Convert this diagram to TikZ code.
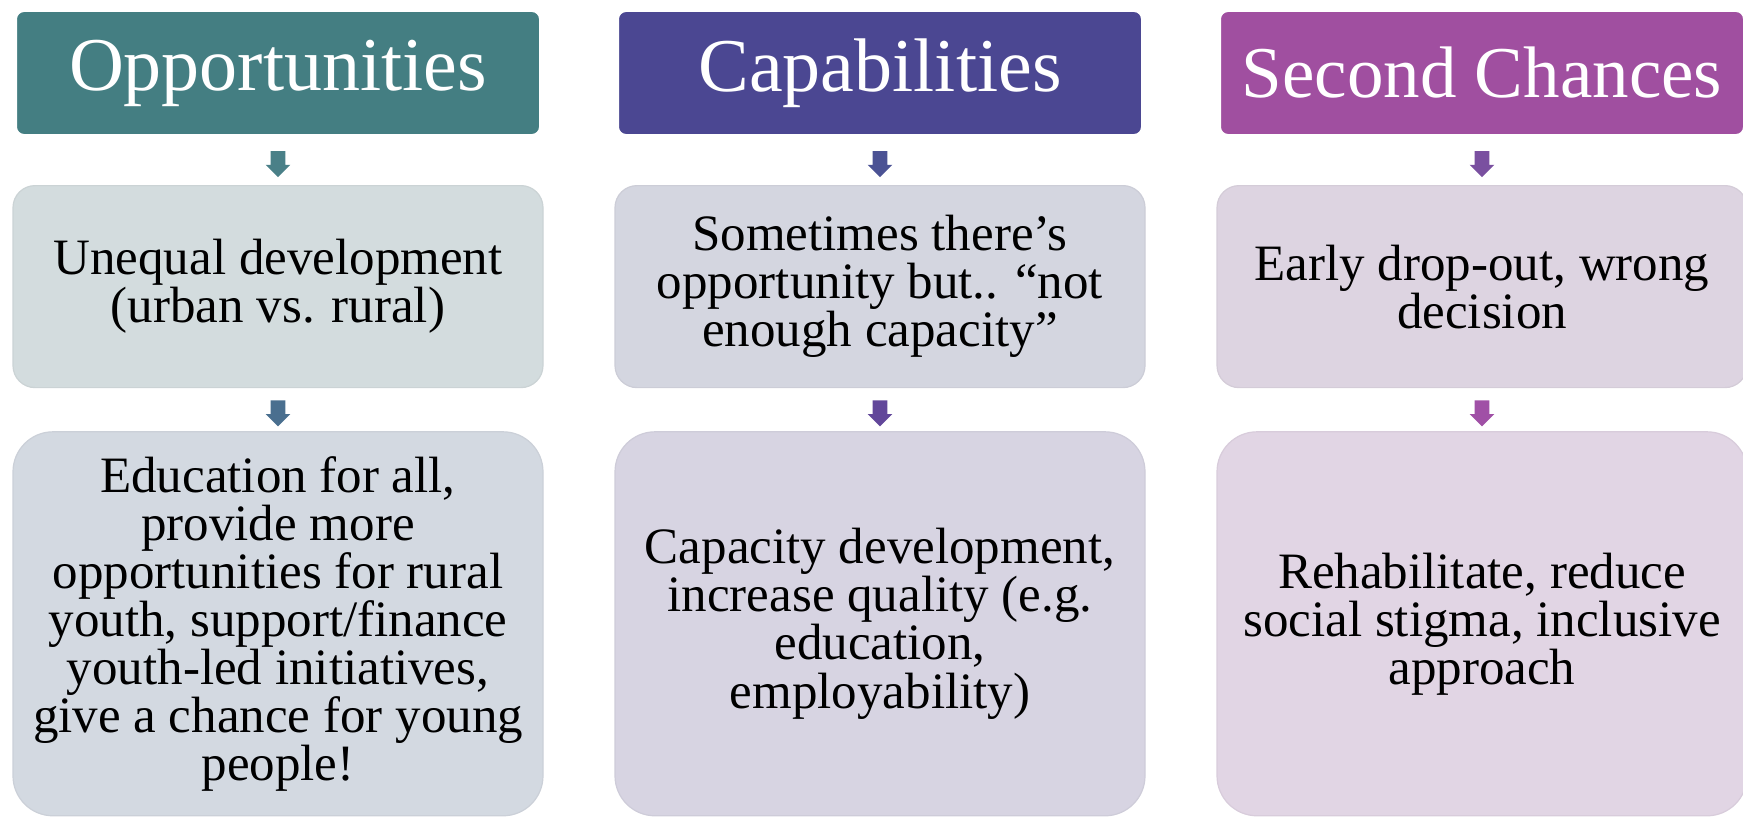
\documentclass[tikz,border=0pt]{standalone}
\usepackage{fontspec}
\setmainfont{Liberation Serif}
\usetikzlibrary{positioning, calc, shapes.arrows}

\definecolor{oppHead}{HTML}{447E82}
\definecolor{oppMid}{HTML}{D3DCDE}
\definecolor{oppLow}{HTML}{D3D9E1}
\definecolor{oppArrA}{HTML}{4A8088}
\definecolor{oppArrB}{HTML}{4A6F8F}
\definecolor{capHead}{HTML}{4B4792}
\definecolor{capMid}{HTML}{D4D6E0}
\definecolor{capLow}{HTML}{D7D4E2}
\definecolor{capArrA}{HTML}{4B5294}
\definecolor{capArrB}{HTML}{62479A}
\definecolor{secHead}{HTML}{A04FA0}
\definecolor{secMid}{HTML}{DDD4E1}
\definecolor{secLow}{HTML}{E1D5E4}
\definecolor{secArrA}{HTML}{7A50A0}
\definecolor{secArrB}{HTML}{A050A6}

\begin{document}
\begin{tikzpicture}[
      x=1pt, y=1pt,
      node distance = 24.5pt and 38pt,
      head/.style    = {fill=#1, draw=white, line width=1pt, rounded corners=4pt,
                        minimum width=262pt, minimum height=62pt, inner sep=0pt,
                        text=white, font=\fontsize{38}{40}\selectfont},
      midbox/.style  = {fill=#1, draw=#1!96!black, line width=0.6pt, rounded corners=11pt,
                        minimum width=265pt, minimum height=101pt, inner sep=0pt,
                        align=center, font=\fontsize{25.5}{24}\selectfont},
      lowbox/.style  = {midbox=#1, rounded corners=20pt, minimum height=192pt},
      dnarrow/.style = {single arrow, fill=#1, draw=none, shape border rotate=270,
                        minimum height=13pt, minimum width=12pt, inner sep=3.5pt,
                        single arrow head extend=2.5pt}
  ]
  \useasboundingbox (0,0) rectangle (871.5,408);

  % --- Column headers ---
  \node[head=oppHead] (hOpp) at (139,371.5) {Opportunities};
  \node[head=capHead, right=of hOpp] (hCap) {Capabilities};
  \node[head=secHead, right=of hCap, font=\fontsize{36.5}{40}\selectfont] (hSec) {Second Chances};

  % --- Problems ---
  \node[midbox=oppMid, below=of hOpp] (pOpp) {Unequal development\\(urban vs. rural)};
  \node[midbox=capMid, below=of hCap] (pCap) {Sometimes there’s\\opportunity but.. “not\\enough capacity”};
  \node[midbox=secMid, below=of hSec] (pSec) {Early drop-out, wrong\\decision};

  % --- Answers ---
  \node[lowbox=oppLow, below=21.5pt of pOpp] (aOpp)
        {Education for all,\\provide more\\opportunities for rural\\youth, support/finance\\youth-led initiatives,\\give a chance for young\\people!};
  \node[lowbox=capLow, below=21.5pt of pCap] (aCap)
        {Capacity development,\\increase quality (e.g.\\education,\\employability)};
  \node[lowbox=secLow, below=21.5pt of pSec] (aSec)
        {Rehabilitate, reduce\\social stigma, inclusive\\approach};

  % --- Block arrows ---
  \node[dnarrow=oppArrA] (dOppA) at ($(hOpp.south)!0.5!(pOpp.north)$) {};
  \node[dnarrow=capArrA] (dCapA) at ($(hCap.south)!0.5!(pCap.north)$) {};
  \node[dnarrow=secArrA] (dSecA) at ($(hSec.south)!0.5!(pSec.north)$) {};
  \node[dnarrow=oppArrB] (dOppB) at ($(pOpp.south)!0.5!(aOpp.north)$) {};
  \node[dnarrow=capArrB] (dCapB) at ($(pCap.south)!0.5!(aCap.north)$) {};
  \node[dnarrow=secArrB] (dSecB) at ($(pSec.south)!0.5!(aSec.north)$) {};

\end{tikzpicture}
\end{document}
